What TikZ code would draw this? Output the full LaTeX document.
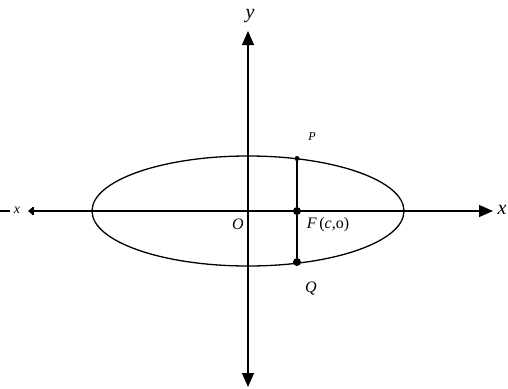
\documentclass[tikz,border=0pt]{standalone}
\usepackage{fontspec}
\setmainfont{Liberation Serif}
\usetikzlibrary{arrows.meta}
\begin{document}
\begin{tikzpicture}[x=1pt,y=-1pt,
  axis/.style={line width=1.2pt},
  curve/.style={line width=1.3pt},
  tip/.style={-{Triangle[length=14pt,width=12pt]}},
  lbl/.style={font=\fontsize{16}{16}\selectfont\itshape, inner sep=0pt},
  big/.style={font=\fontsize{20}{20}\selectfont\itshape, inner sep=0pt},
  dotf/.style={circle,fill=black,inner sep=0pt,minimum size=8pt},
  dots/.style={circle,fill=black,inner sep=0pt,minimum size=5pt}]
\useasboundingbox (0,0) rectangle (508,388);
% coordinates
\coordinate (O) at (248,211);
\coordinate (xl) at (28,211);
\coordinate (xr) at (493,211);
\coordinate (yt) at (248,31);
\coordinate (yb) at (248,387);
\coordinate (m1) at (0,211);
\coordinate (m2) at (10,211);
% ellipse
\draw[curve] (O) ellipse [x radius=156, y radius=55];
% axes
\draw[axis,tip] (O) -- (xr);
\draw[axis,-{Triangle[length=5pt,width=8pt]}] (O) -- (xl);
\draw[axis] (33,207) -- (33,215);
\draw[axis,tip] (O) -- (yt);
\draw[axis,tip] (O) -- (yb);
\draw[axis] (m1) -- (m2);
% focus chord
\node[dots] (P) at (297,158.5) {};
\node[dotf] (F) at (297,211) {};
\node[dotf] (Q) at (297,262) {};
\draw[axis] (P) -- (F) -- (Q);
% labels
\node[big] (ly) at (250,16) {y};
\node[big] (lx) at (502,210) {x};
\node[lbl,font=\fontsize{14}{14}\selectfont\itshape] (lmx) at (17,210) {x};
\node[lbl] (lO) at (238,224) {O};
\node[lbl,font=\fontsize{12}{12}\selectfont\itshape] (lP) at (312,137) {P};
\node[lbl,font=\fontsize{16}{16}\selectfont] (lF) at (328,224.5) {\textit{F}\,(\textit{c},o)};
\node[lbl] (lQ) at (311,288) {Q};
\end{tikzpicture}
\end{document}
